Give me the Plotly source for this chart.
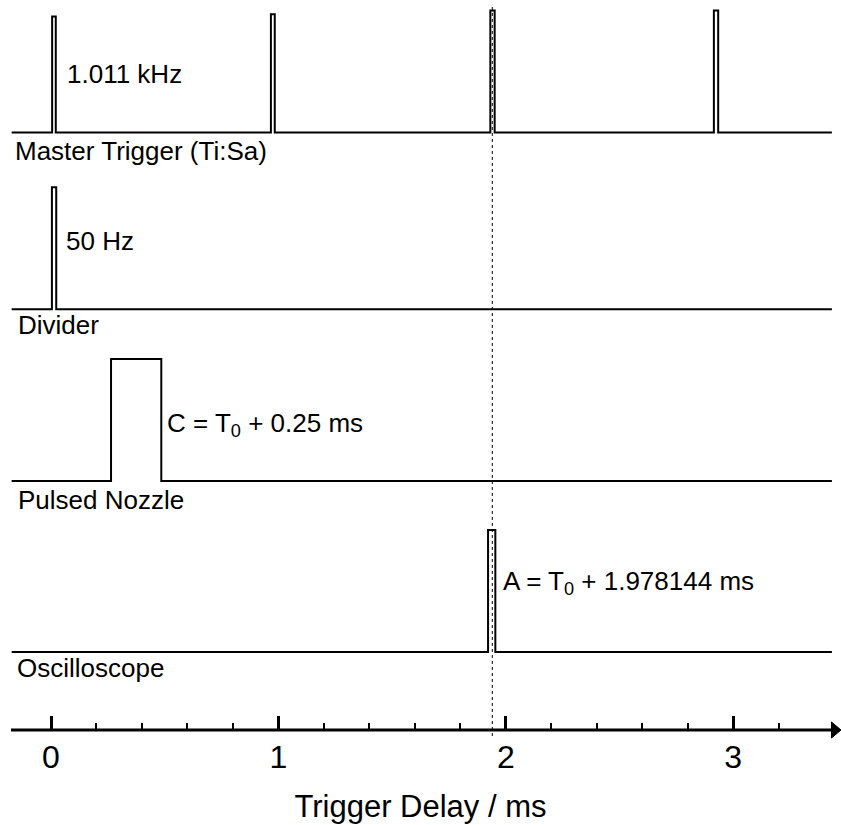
import plotly.graph_objects as go

# ---------------- data (times in ms, levels relative to pulse amplitude) ----------------
master_start = [0.005, 0.967, 1.932, 2.915]
master_end = [0.021, 0.984, 1.951, 2.934]
master_level = [0.95, 0.97, 1.0, 1.0]

divider_start = [0.004]
divider_end = [0.023]
divider_level = [1.0]

nozzle_start = [0.264]
nozzle_end = [0.485]
nozzle_level = [1.0]

scope_start = [1.922]
scope_end = [1.954]
scope_level = [1.0]

trigger_mark = 1.9406          # dotted reference line (ms)
trace_span = [-0.173, 3.434]   # start / end of each trace (ms)

channel_names = ["Master Trigger (Ti:Sa)", "Divider", "Pulsed Nozzle", "Oscilloscope"]
channel_notes = ["1.011 kHz", "50 Hz", "C = T<sub>0</sub> + 0.25 ms", "A = T<sub>0</sub> + 1.978144 ms"]
tick_values = [0, 1, 2, 3]
tick_labels = ["0", "1", "2", "3"]
minor_ticks = [0.2, 0.4, 0.6, 0.8, 1.2, 1.4, 1.6, 1.8, 2.2, 2.4, 2.6, 2.8, 3.2]
x_title = "Trigger Delay / ms"

# ---------------- layout constants (pixel rows; y axis maps 1:1 to page rows) ----------------
W, H = 841, 825
PX0, PXS = 51.0, 227.4          # pixel of t=0, pixels per ms
def px2ms(p):
    return (p - PX0) / PXS

baselines = [132.5, 309.3, 481.0, 652.0]
amplitude = 122.0
AXIS_Y = 730.0
FONT = "Liberation Sans, Arial, sans-serif"
LABEL_SIZE = 26

def step_path(starts, ends, levels, base):
    xs = [trace_span[0]]
    ys = [base]
    for s, e, l in zip(starts, ends, levels):
        top = base - l * amplitude
        xs += [s, s, e, e]
        ys += [base, top, top, base]
    xs.append(trace_span[1])
    ys.append(base)
    return xs, ys

channels = [
    (master_start, master_end, master_level),
    (divider_start, divider_end, divider_level),
    (nozzle_start, nozzle_end, nozzle_level),
    (scope_start, scope_end, scope_level),
]

fig = go.Figure()
for (s, e, l), base, name in zip(channels, baselines, channel_names):
    xs, ys = step_path(s, e, l, base)
    fig.add_trace(go.Scatter(x=xs, y=ys, mode="lines", name=name,
                             line=dict(color="black", width=2, shape="linear"),
                             cliponaxis=False, hoverinfo="skip"))

# labels
name_pos = [(13, 151), (16, 324.5), (16, 500), (14.5, 667.5)]
note_pos = [(65, 74), (63.5, 241), (165, 424), (500.5, 582)]
ann = []
for txt, (px, py) in zip(channel_names, name_pos):
    ann.append(dict(text=txt, x=px2ms(px), y=py, xref="x", yref="y", xanchor="left",
                    yanchor="middle", showarrow=False,
                    font=dict(family=FONT, size=LABEL_SIZE, color="black")))
for txt, (px, py) in zip(channel_notes, note_pos):
    ann.append(dict(text=txt, x=px2ms(px), y=py, xref="x", yref="y", xanchor="left",
                    yanchor="middle", showarrow=False,
                    font=dict(family=FONT, size=LABEL_SIZE, color="black")))

shapes = [
    # dotted reference line
    dict(type="line", xref="x", yref="y", x0=trigger_mark, x1=trigger_mark, y0=7, y1=738,
         line=dict(color="black", width=1, dash="dot")),
    # axis line
    dict(type="line", xref="x", yref="y", x0=px2ms(11), x1=px2ms(833), y0=AXIS_Y, y1=AXIS_Y,
         line=dict(color="black", width=3)),
    # arrow head
    dict(type="path", xref="x", yref="y",
         path=f"M {px2ms(831.5)},{AXIS_Y-8} L {px2ms(841)},{AXIS_Y} L {px2ms(831.5)},{AXIS_Y+8} Z",
         fillcolor="black", line=dict(color="black", width=1)),
]

fig.update_layout(
    width=W, height=H,
    margin=dict(l=0, r=0, t=0, b=0, pad=0),
    paper_bgcolor="white", plot_bgcolor="white",
    showlegend=False,
    annotations=ann, shapes=shapes,
    font=dict(family=FONT, color="black"),
    xaxis=dict(
        domain=[0, 1], range=[px2ms(0), px2ms(W)],
        anchor="free", position=1 - AXIS_Y / H,
        showline=False, zeroline=False, showgrid=False,
        ticks="inside", ticklen=14, tickwidth=2.5, tickcolor="black",
        tickvals=tick_values, ticktext=tick_labels,
        tickfont=dict(family=FONT, size=32, color="black"),
        ticklabelstandoff=5,
        minor=dict(ticks="inside", ticklen=7, tickwidth=1.5, tickcolor="black",
                   tickvals=minor_ticks, showgrid=False),
        title=dict(text=x_title, font=dict(family=FONT, size=31, color="black"), standoff=21),
        automargin=False, fixedrange=True,
    ),
    yaxis=dict(domain=[0, 1], range=[H, 0], visible=False, fixedrange=True),
)

fig.write_html("out.html")
